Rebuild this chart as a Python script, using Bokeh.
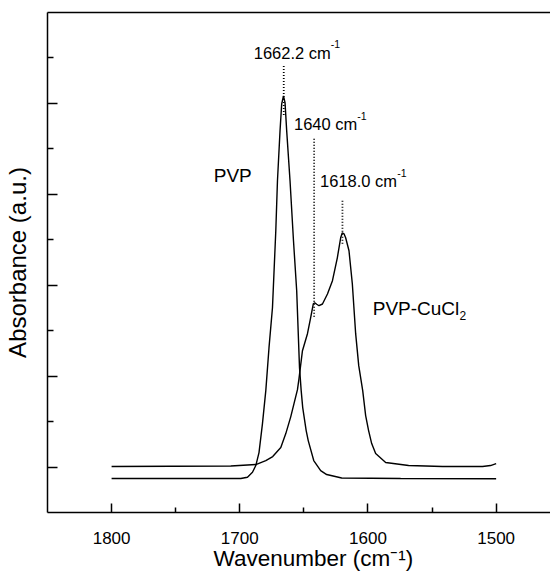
from bokeh.plotting import figure
from bokeh.models import (Range1d, FixedTicker, LinearAxis, Label, ColumnDataSource,
                          Title, CustomLabelingPolicy)
from bokeh.embed import file_html
from bokeh.resources import INLINE

# ---------------- data ----------------
# PVP spectrum: wavenumber (cm-1) / absorbance (a.u.)
pvp_wn = [1800, 1699.2, 1694.0, 1690.1, 1687.5, 1685.0, 1682.3, 1679.7, 1677.2,
          1674.5, 1671.9, 1670.6, 1668.6, 1667.3, 1665.9, 1664.7, 1663.4, 1660.8,
          1658.1, 1655.6, 1653.4, 1652.1, 1650.9, 1648.2, 1646.6, 1642.3, 1636.9,
          1632.2, 1620.5, 1574.5, 1500]
pvp_abs = [0.747, 0.747, 0.776, 0.886, 1.033, 1.319, 1.956, 2.681, 3.626,
           4.505, 6.198, 7.297, 8.396, 8.989, 9.165, 9.018, 8.396, 7.297,
           5.978, 4.879, 3.187, 2.681, 2.308, 1.802, 1.582, 1.143, 0.923,
           0.835, 0.758, 0.747, 0.742]

# PVP-CuCl2 spectrum
cu_wn = [1800, 1707.0, 1687.5, 1679.7, 1674.3, 1668.0, 1664.1, 1660.2, 1657.7,
         1655.0, 1653.8, 1651.1, 1647.2, 1644.7, 1642.6, 1641.5, 1640.0, 1638.2,
         1635.5, 1631.6, 1627.7, 1623.9, 1621.3, 1620.0, 1618.7, 1617.4, 1614.8,
         1612.2, 1609.6, 1607.2, 1604.1, 1601.8, 1599.5, 1597.1, 1594.0, 1586.2,
         1568.3, 1541.8, 1510.6, 1504.4, 1500]
cu_abs = [1.011, 1.022, 1.055, 1.143, 1.231, 1.429, 1.736, 2.110, 2.396,
          2.703, 2.945, 3.560, 3.934, 4.286, 4.593, 4.615, 4.582, 4.549,
          4.587, 4.807, 5.099, 5.604, 6.044, 6.154, 6.132, 6.044, 5.758,
          5.033, 3.934, 3.231, 2.681, 2.132, 1.802, 1.516, 1.297, 1.099,
          1.033, 1.011, 1.011, 1.033, 1.077]

# dotted peak markers
marker_wn = [1665.7, 1642.0, 1619.9]
marker_top = [9.824, 8.220, 6.857]
marker_bottom = [8.725, 4.264, 5.912]

# peak annotations
peak_text = ["1662.2 cm", "1640 cm", "1618.0 cm"]
peak_sup = ["-1", "-1", "-1"]

# axis ticks
x_major = [1800, 1700, 1600, 1500]
x_minor = [1750, 1650, 1550]
y_major = [1, 3, 5, 7, 9]
y_minor = [2, 4, 6, 8, 10]

FONT = "Liberation Sans"

p = figure(width=550, height=574, output_backend="svg", toolbar_location=None,
           x_range=Range1d(1850, 1457.6), y_range=Range1d(0, 11),
           min_border_left=46, min_border_right=0, min_border_top=12,
           min_border_bottom=62)
p.outline_line_color = None
p.grid.visible = False
p.background_fill_color = "white"
p.border_fill_color = "white"

# bottom axis
xa = p.xaxis[0]
xa.ticker = FixedTicker(ticks=x_major, minor_ticks=x_minor)
xa.major_tick_in = 9
xa.major_tick_out = 0
xa.minor_tick_in = 5
xa.minor_tick_out = 0
xa.axis_line_width = 1.5
xa.major_tick_line_width = 1.5
xa.minor_tick_line_width = 1.5
xa.major_label_text_font = FONT
xa.major_label_text_font_size = "17px"
xa.major_label_text_color = "black"
xa.major_label_standoff = 19

# left axis (ticks without numbers)
ya = p.yaxis[0]
ya.ticker = FixedTicker(ticks=y_major, minor_ticks=y_minor)
ya.major_tick_in = 10
ya.major_tick_out = 0
ya.minor_tick_in = 6
ya.minor_tick_out = 0
ya.axis_line_width = 1.5
ya.major_tick_line_width = 1.5
ya.minor_tick_line_width = 1.5
ya.major_label_standoff = 0
ya.major_label_text_font_size = "1px"
ya.major_label_policy = CustomLabelingPolicy(code="""
    const all = [...indices];
    for (const i of all) indices.set(i, false);
    return indices;
""")
ya.axis_label = "Absorbance (a.u.)"
ya.axis_label_text_font = FONT
ya.axis_label_text_font_size = "24px"
ya.axis_label_text_font_style = "normal"
ya.axis_label_text_color = "black"
ya.axis_label_standoff = 13

# top frame line
top = LinearAxis(ticker=FixedTicker(ticks=[]), major_tick_in=0, major_tick_out=0,
                 minor_tick_in=0, minor_tick_out=0, major_label_standoff=0,
                 axis_line_width=1.5)
p.add_layout(top, "above")

# x axis title
xt = Title(text="Wavenumber (cm\u207b\u00b9)", align="left", offset=166,
           text_font=FONT, text_font_size="22.5px", text_font_style="normal",
           text_color="black", standoff=-5)
p.add_layout(xt, "below")

# spectra
p.line(pvp_wn, pvp_abs, line_color="black", line_width=1.4)
p.line(cu_wn, cu_abs, line_color="black", line_width=1.4)

# dotted markers
msrc = ColumnDataSource(dict(x=marker_wn, y0=marker_top, y1=marker_bottom))
p.segment(x0="x", y0="y0", x1="x", y1="y1", source=msrc, line_color="black",
          line_width=1.8, line_dash="1 2")

def lab(x, y, text, size):
    p.add_layout(Label(x=x, y=y, text=text, text_font=FONT, text_font_size=size,
                       text_color="black", text_baseline="alphabetic",
                       text_align="left"))

# peak labels (main text + superscript)
peak_x = [1689.1, 1657.7, 1637.4]
peak_y = [10.11, 8.549, 7.297]
sup_x = [1629.1, 1608.3, 1577.2]
sup_y = [10.30, 8.725, 7.479]
for i in range(3):
    lab(peak_x[i], peak_y[i], peak_text[i], "16.5px")
    lab(sup_x[i], sup_y[i], peak_sup[i], "10.5px")

# series labels
lab(1720.3, 7.407, "PVP", "19px")
lab(1596.3, 4.484, "PVP-CuCl", "19px")
lab(1528.5, 4.33, "2", "12px")

open("out.html", "w").write(file_html(p, INLINE))
